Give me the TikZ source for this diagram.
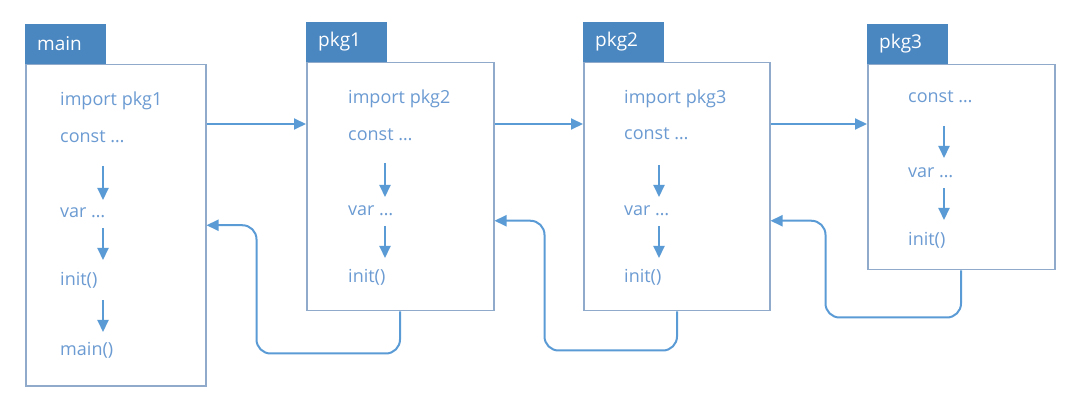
\documentclass[tikz,border=0pt]{standalone}
\usepackage{fontspec}
\setmainfont{Open Sans}
\usetikzlibrary{arrows.meta}
\definecolor{tabblue}{HTML}{4A86C0}
\definecolor{edgegray}{HTML}{8FAACB}
\definecolor{txtblue}{HTML}{6B9BD2}
\definecolor{arrblue}{HTML}{5B9BD5}
\tikzset{%
  PkgBox/.style={draw=edgegray,line width=1.5pt,fill=white,anchor=north west,inner sep=0pt},
  PkgTab/.style={fill=tabblue,text=white,anchor=south west,minimum width=81pt,minimum height=40pt,
    inner xsep=12pt,inner ysep=0pt,text width=57pt,align=left,font=\fontsize{19}{22}\selectfont},
  Stmt/.style={anchor=west,inner sep=0pt,text=txtblue,font=\fontsize{18}{21}\selectfont},
  Down/.style={draw=arrblue,line width=2pt,-{Triangle[length=12pt,width=11pt]}},
  Flow/.style={draw=arrblue,line width=2pt,rounded corners=14pt,-{Triangle[length=12pt,width=11pt]}}
}

\begin{document}
\begin{tikzpicture}[x=1pt,y=-1pt]
  \useasboundingbox (0,0) rectangle (1080,406);
  % boxes
  \node[PkgBox,minimum width=180pt,minimum height=321pt] (m) at (25,64) {};
  \node[PkgBox,minimum width=187pt,minimum height=248pt] (p1) at (306,62) {};
  \node[PkgBox,minimum width=186pt,minimum height=248pt] (p2) at (583,62) {};
  \node[PkgBox,minimum width=187pt,minimum height=205pt] (p3) at (867,64) {};
  \foreach \pkg/\name in {m/main,p1/pkg1,p2/pkg2,p3/pkg3}
    {\node[PkgTab] (t\pkg) at (\pkg.north west) {\name};}
  % statements
  \foreach \txt/\yy [count=\i] in {import pkg1/101,const \dots/137,var \dots/213,init()/280,main()/350}
    {\node[Stmt] (m\i) at (60,\yy) {\txt};}
  \foreach \txt/\yy [count=\i] in {import pkg2/99,const \dots/135,var \dots/211,init()/277}
    {\node[Stmt] (a\i) at (348,\yy) {\txt};}
  \foreach \txt/\yy [count=\i] in {import pkg3/99,const \dots/134,var \dots/211,init()/277}
    {\node[Stmt] (b\i) at (624,\yy) {\txt};}
  \foreach \txt/\yy [count=\i] in {const \dots/97,var \dots/173,init()/240}
    {\node[Stmt] (c\i) at (908,\yy) {\txt};}
  % order inside a package
  \draw[Down] ([xshift=43pt,yshift=-29pt]m2.west) -- ([xshift=43pt,yshift=13pt]m3.west);
  \draw[Down] ([xshift=43pt,yshift=-15pt]m3.west) -- ([xshift=43pt,yshift=20pt]m4.west);
  \draw[Down] ([xshift=43pt,yshift=-20pt]m4.west) -- ([xshift=43pt,yshift=18pt]m5.west);
  \draw[Down] ([xshift=37pt,yshift=-28pt]a2.west) -- ([xshift=37pt,yshift=14pt]a3.west);
  \draw[Down] ([xshift=37pt,yshift=-15pt]a3.west) -- ([xshift=37pt,yshift=19pt]a4.west);
  \draw[Down] ([xshift=35pt,yshift=-31pt]b2.west) -- ([xshift=35pt,yshift=14pt]b3.west);
  \draw[Down] ([xshift=35pt,yshift=-15pt]b3.west) -- ([xshift=35pt,yshift=19pt]b4.west);
  \draw[Down] ([xshift=36pt,yshift=-29pt]c1.west) -- ([xshift=36pt,yshift=15pt]c2.west);
  \draw[Down] ([xshift=36pt,yshift=-15pt]c2.west) -- ([xshift=36pt,yshift=20pt]c3.west);
  % imports
  \draw[Flow] (m.east |- 0,124) -- (p1.west |- 0,124);
  \draw[Flow] (p1.east |- 0,124) -- (p2.west |- 0,124);
  \draw[Flow] (p2.east |- 0,124) -- (p3.west |- 0,124);
  % returns
  \draw[Flow] ([xshift=94pt]p1.south west) -- ++(0,42) -| ([xshift=50pt]m.east) -- (m.east);
  \draw[Flow] ([xshift=94pt]p2.south west) -- ++(0,39) -| ([xshift=50pt,yshift=-34pt]p1.east) -- ([yshift=-34pt]p1.east);
  \draw[Flow] ([xshift=94pt]p3.south west) -- ++(0,47) -| ([xshift=55pt,yshift=-34pt]p2.east) -- ([yshift=-34pt]p2.east);
\end{tikzpicture}
\end{document}
